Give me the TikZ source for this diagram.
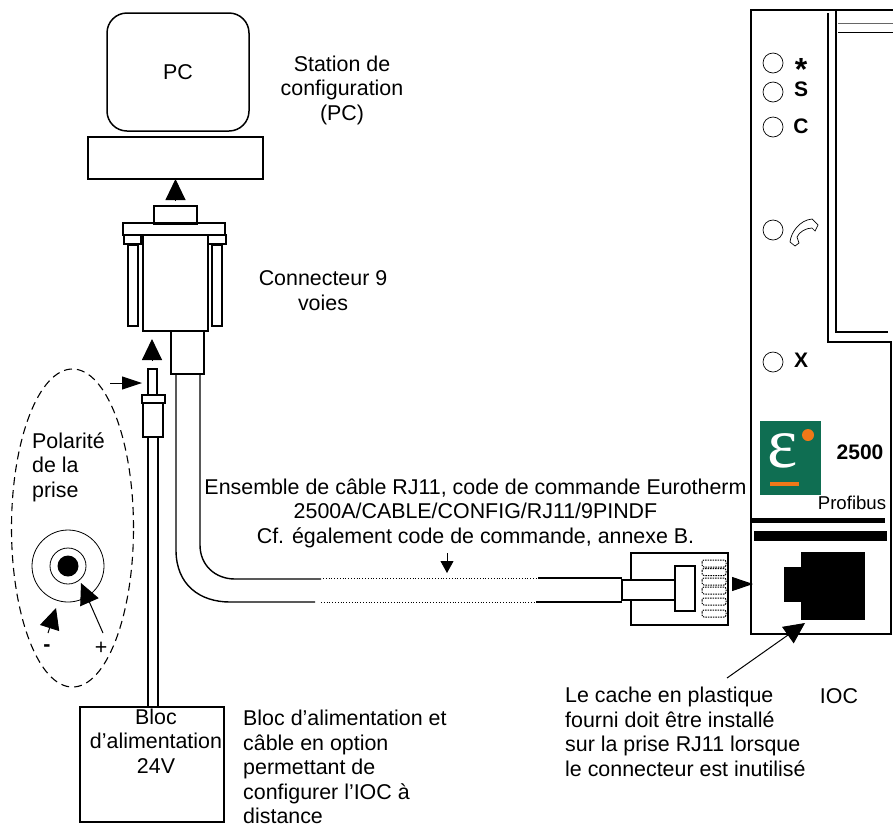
\documentclass[tikz,border=0pt]{standalone}
\usepackage{fontspec}
\setmainfont{Liberation Sans}
\newfontfamily\logofont{Liberation Serif}
\usetikzlibrary{arrows.meta,shapes.geometric}
\definecolor{logogreen}{HTML}{0F6E52}
\definecolor{logoorange}{HTML}{F07818}
\tikzset{
	part/.style={draw,line width=1.5pt,outer sep=0pt,inner sep=0pt},
	txt/.style={font=\fontsize{21.4}{24.5}\selectfont,align=center,inner sep=0pt},
	txtl/.style={font=\fontsize{21.4}{24.5}\selectfont,align=left,inner sep=0pt},
	lbl/.style={font=\fontsize{21}{22}\bfseries\selectfont,inner sep=0pt},
	wire/.style={line width=1.4pt},
	led/.style={draw,circle,line width=.7pt,minimum size=20pt,inner sep=0pt},
	bigtip/.style={-{Triangle[length=21pt,width=20pt]},line width=1pt},
	sidetip/.style={-{Triangle[length=20pt,width=13pt]},line width=1pt},
	contact/.style={draw,dash pattern=on 1.5pt off 1pt,line width=1pt,rounded corners=2pt},
}
\begin{document}
\begin{tikzpicture}[x=1pt,y=-1pt]
	\useasboundingbox (0,0) rectangle (893,823);
	% PC
	\node[part,rounded corners=20pt,minimum width=142pt,minimum height=118pt,txt] (pc) at (178,72) {PC};
	\node[part,minimum width=175pt,minimum height=42pt] (pcbase) at (175.5,158) {};
	\node[txt] (station) at (342,90) {Station de\\configuration\\(PC)};
	% connecteur
	\node[part,minimum width=43pt,minimum height=18pt] (dbtop) at (175.5,215) {};
	\node[part,minimum width=102pt,minimum height=12pt] (dbflange) at (174,229) {};
	\node[part,minimum width=65pt,minimum height=96pt] (dbbody) at (175.5,283) {};
	\node[part,minimum width=17pt,minimum height=9pt] (dbearl) at (132.5,239.5) {};
	\node[part,minimum width=18pt,minimum height=9pt] (dbearr) at (217,239.5) {};
	\node[part,minimum width=10pt,minimum height=81pt] (dbscrewl) at (133,285.5) {};
	\node[part,minimum width=10pt,minimum height=81pt] (dbscrewr) at (217,285.5) {};
	\node[part,minimum width=33pt,minimum height=43pt] (dbshell) at (187.5,352.5) {};
	\node[txt] (dblabel) at (323,290.5) {Connecteur 9\\voies};
	\draw[bigtip,shorten <=5pt] (dbtop.north) -- (pcbase.south);
	% cable RJ11
	\coordinate (cablea) at (176,374);
	\coordinate (cableb) at (200,374);
	\draw[wire] (cablea) -- (176,550) .. controls (176,585) and (200,602) .. (230,602) -- (315,602);
	\draw[wire] (cableb) -- (200,545) .. controls (200,565) and (215,579) .. (235,579) -- (321,579);
	\draw[line width=.8pt,dotted] (321,602) -- (536,602);
	\draw[line width=.8pt,dotted] (323,578) -- (536,578);
	\draw[wire] (536,602) -- (622,602);
	\draw[wire] (538,578) -- (622,578);
	\node[txt] (cablelabel) at (475.5,513) {Ensemble de câble RJ11, code de commande Eurotherm\\2500A/CABLE/CONFIG/RJ11/9PINDF\\Cf. également code de commande, annexe B.};
	\coordinate (cablemark) at (447,553);
	\coordinate (cablemarkb) at (447,573);
	\draw[-{Triangle[length=12pt,width=13pt]},line width=.8pt] (cablemark) -- (cablemarkb);
	% fiche RJ11
	\node[part,minimum width=97pt,minimum height=72pt] (rjbox) at (679.5,589) {};
	\node[part,fill=white,minimum width=53pt,minimum height=20pt] (rjneck) at (648.5,590) {};
	\node[part,line width=1.8pt,fill=white,minimum width=20pt,minimum height=45pt] (rjhead) at (685,588.5) {};
	\foreach \y in {560,568.5,578,587,598,610}
		\draw[contact] (702,\y) rectangle (726,\y+7);
	% appareil
	\draw[line width=1.8pt] (835,10) -- (751,10) -- (751,634) -- (891,634) -- (891,342) -- (828,342) -- (828,13);
	\draw[line width=1.8pt] (893,10) -- (836,10) -- (836,332) -- (888,332);
	\draw[line width=1pt,black!60] (838,23) -- (893,23);
	\draw[line width=.8pt] (838,32) -- (893,32);
	\node[led] (ledstar) at (773,63) {};
	\node[led] (leds) at (773,92) {};
	\node[led] (ledc) at (773,127) {};
	\node[led] (ledtel) at (773,230) {};
	\node[led] (ledx) at (773,362) {};
	\node[lbl,font=\fontsize{32}{32}\bfseries\selectfont] (lblstar) at (801,65) {\raisebox{-15.4pt}[6pt][6pt]{*}};
	\node[lbl] (lbls) at (801,89) {S};
	\node[lbl] (lblc) at (801,126) {C};
	\node[lbl] (lblx) at (801,360) {X};
	\draw[line width=.7pt] (812,219) .. controls (800,220) and (791,232) .. (790,242) -- (795,246) -- (799,243) -- (797,237) .. controls (799,232) and (806,228) .. (812,228) -- (815,231) -- (818,225) -- cycle;
	% logo
	\node[fill=logogreen,minimum width=61pt,minimum height=74pt,inner sep=0pt,outer sep=0pt] (logo) at (790.5,458) {};
	\node[text=white,inner sep=0pt,font=\logofont\fontsize{72}{72}\selectfont] (logoeps) at (783,451) {ε};
	\fill[logoorange] (808,435) circle (6);
	\fill[logoorange] (770,482) rectangle (799,486);
	\node[lbl] (lbl2500) at (860,452) {2500};
	\node[txt,font=\fontsize{18.6}{20}\selectfont] (profibus) at (852,503) {Profibus};
	\fill (752,518) rectangle (885,523);
	\fill (754,531) rectangle (887,541);
	\fill (801,552) rectangle (865,620);
	\fill (784,567) rectangle (801,602);
	\coordinate (rjport) at (732,584);
	\coordinate (rjportb) at (753,584);
	\draw[-{Triangle[length=21pt,width=14pt]},line width=1pt] (rjport) -- (rjportb);
	\coordinate (cachestart) at (727,678);
	\coordinate (cacheend) at (805,623);
	\draw[bigtip] (cachestart) -- (cacheend);
	\node[txtl,anchor=west] (cachelabel) at (565,732) {Le cache en plastique\\fourni doit être installé\\sur la prise RJ11 lorsque\\le connecteur est inutilisé};
	\node[txt] (ioc) at (839,696) {IOC};
	% alimentation
	\node[part,minimum width=9pt,minimum height=26pt] (jackpin) at (152.5,382) {};
	\node[part,minimum width=23pt,minimum height=8pt] (jackcollar) at (153.5,399) {};
	\node[part,minimum width=20pt,minimum height=34pt] (jackbody) at (153,420) {};
	\node[part,minimum width=144pt,minimum height=115pt] (bloc) at (152,764.5) {};
	\node[txt] (bloclabel) at (156,741) {Bloc\\d’alimentation\\24V};
	\draw[wire] (148,437) -- (148,707);
	\draw[wire] (158,437) -- (158,707);
	\node[txtl,anchor=west] (bloctext) at (243,767) {Bloc d’alimentation et\\câble en option\\permettant de\\configurer l’IOC à\\distance};
	\coordinate (jackup) at (152,361);
	\coordinate (jackupb) at (152,339);
	\draw[bigtip] (jackup) -- (jackupb);
	\coordinate (jackside) at (110,383);
	\coordinate (jacksideb) at (142,383);
	\draw[sidetip] (jackside) -- (jacksideb);
	% polarite
	\node[draw,dash pattern=on 8pt off 5pt,ellipse,line width=1.1pt,minimum width=122pt,minimum height=318pt,inner sep=0pt] (polar) at (72.5,528) {};
	\node[txtl,anchor=west] (polartext) at (32,467) {Polarité\\de la\\prise};
	\node[draw,circle,line width=.8pt,minimum size=72pt,inner sep=0pt] (jackouter) at (68,566) {};
	\node[draw,circle,line width=.8pt,minimum size=36pt,inner sep=0pt] (jackinner) at (68,566) {};
	\node[fill,circle,minimum size=21pt,inner sep=0pt] (jackdot) at (68,566) {};
	\node[txt] (minus) at (47,648) {\textbf{-}};
	\node[txt] (plus) at (101,648) {+};
	\coordinate (minusstart) at (48,633);
	\coordinate (minusend) at (56,608);
	\coordinate (plusstart) at (103,633);
	\coordinate (plusend) at (81,583);
	\draw[bigtip] (minusstart) -- (minusend);
	\draw[bigtip] (plusstart) -- (plusend);
\end{tikzpicture}
\end{document}
